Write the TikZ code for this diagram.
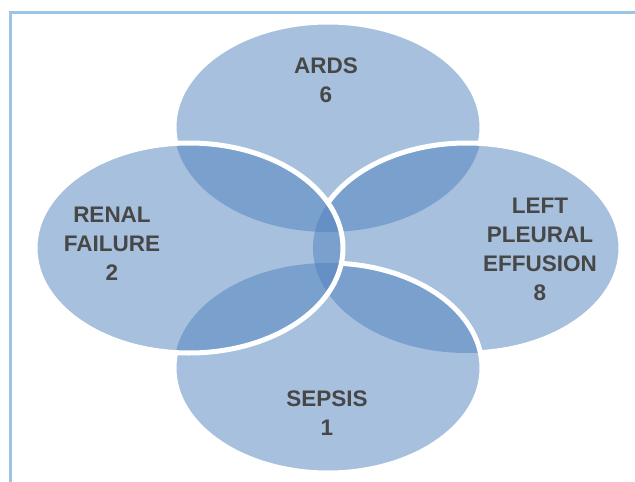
\documentclass[tikz,border=0pt]{standalone}
\usepackage{fontspec}
\setmainfont{Liberation Sans}
\definecolor{vennblue}{RGB}{79,129,189}
\definecolor{frameblue}{RGB}{157,195,230}
\begin{document}
\begin{tikzpicture}[x=1pt,y=-1pt,
    vennfill/.style={fill=vennblue,fill opacity=0.5},
    vennline/.style={draw=white,line width=5pt},
    vlabel/.style={align=center,text=black!72,inner sep=0pt,
      font=\fontsize{22.5}{29}\selectfont\bfseries}]
    \newcommand{\vennout}[1]{
        \clip (-10,-10) rectangle (645,492)
          (#1) ellipse [x radius=154pt,y radius=105pt];
    }
\useasboundingbox (0,0) rectangle (635,482);
\draw[frameblue,line width=3.3pt] (10.3,482) -- (10.3,12.5) -- (635,12.5);

\coordinate (ards) at (328,127);
\coordinate (effusion) at (467,248);
\coordinate (sepsis) at (328,368);
\coordinate (renal) at (189,248);

\foreach \c in {ards,effusion,sepsis,renal}
  \fill[vennfill] (\c) ellipse [x radius=154pt,y radius=105pt];

% white rims, hidden under the ellipses laid on later
\begin{scope}[even odd rule]
  \vennout{effusion}\vennout{sepsis}\vennout{renal}
  \draw[vennline] (ards) ellipse [x radius=154pt,y radius=105pt];
\end{scope}
\begin{scope}[even odd rule]
  \vennout{sepsis}\vennout{renal}
  \draw[vennline] (effusion) ellipse [x radius=154pt,y radius=105pt];
\end{scope}
\begin{scope}[even odd rule]
  \vennout{renal}
  \draw[vennline] (sepsis) ellipse [x radius=154pt,y radius=105pt];
\end{scope}
\draw[vennline] (renal) ellipse [x radius=154pt,y radius=105pt];

\node[vlabel] (ardsText) at (326,80.5) {ARDS\\6};
\node[vlabel] (renalText) at (112,244) {RENAL\\FAILURE\\2};
\node[vlabel] (effusionText) at (540,249) {LEFT\\PLEURAL\\EFFUSION\\8};
\node[vlabel] (sepsisText) at (327,413) {SEPSIS\\1};

\end{tikzpicture}
\end{document}
